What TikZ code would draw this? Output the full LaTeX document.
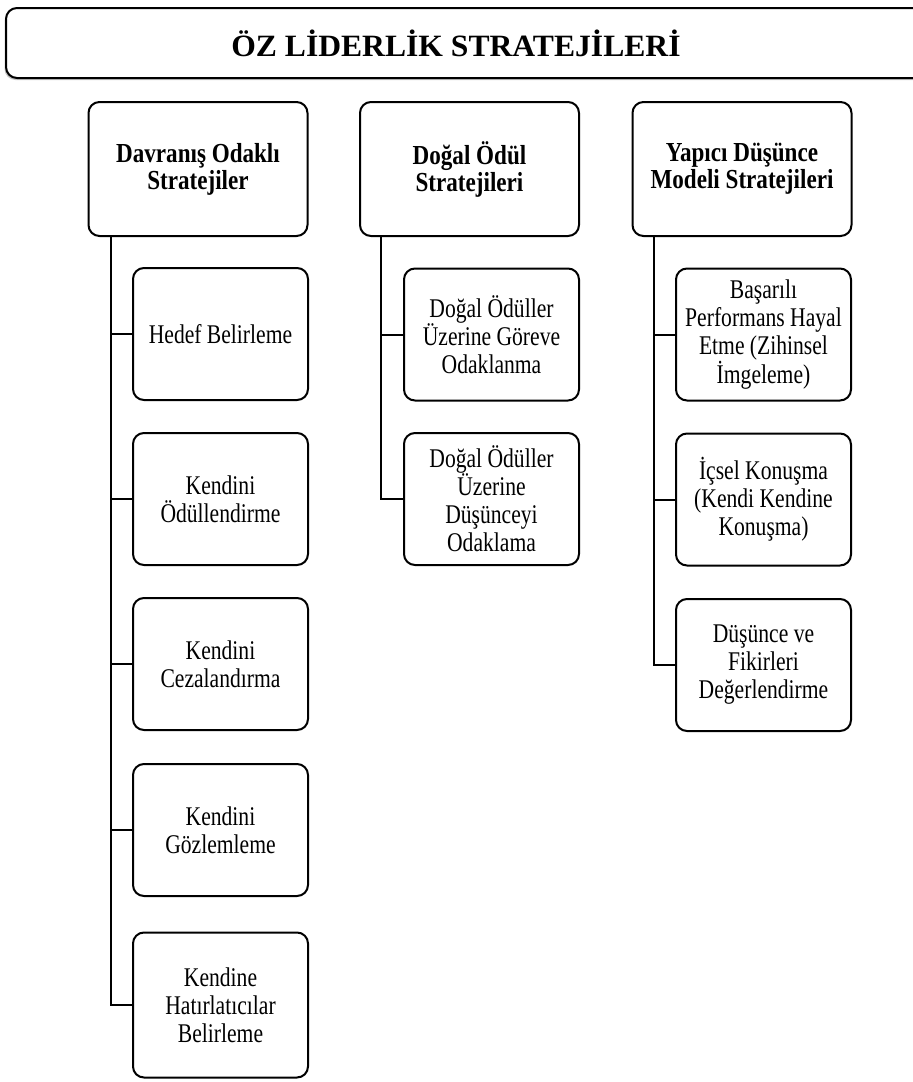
\documentclass[tikz,border=0pt]{standalone}
\usepackage{fontspec}
\setmainfont{Liberation Serif}
\newfontfamily\leaffont[FakeStretch=0.8]{Liberation Serif}
\newfontfamily\headfont[FakeStretch=0.84]{Liberation Serif}
\newfontfamily\titlefont[FakeStretch=1.02]{Liberation Serif}
\usetikzlibrary{shadows}

\begin{document}
\begin{tikzpicture}[x=1pt, y=-1pt,
        box/.style={draw, line width=2pt, rounded corners=11pt, fill=white, align=center, inner sep=2pt},
        headbox/.style={box, minimum width=219pt, minimum height=134pt, font=\headfont\bfseries\fontsize{27.5}{27}\selectfont},
        leafbox/.style={box, minimum width=175pt, minimum height=132pt, font=\leaffont\fontsize{27}{28}\selectfont},
        branch/.style={line width=2pt}]
        \useasboundingbox (0,0) rectangle (913,1082);
        \clip (0,0) rectangle (913,1082);

        \node[box, drop shadow={shadow xshift=-1.5pt, shadow yshift=-2pt, fill=black!45}, minimum width=930pt, minimum height=70pt, anchor=west] (title) at (5,43) {};
        \node[font=\titlefont\bfseries\fontsize{31}{31}\selectfont] (titletext) at (456,43) {ÖZ LİDERLİK STRATEJİLERİ};

        \node[headbox] (davranis) at (198,169) {Davranış Odaklı\\Stratejiler};
        \node[headbox] (odul) at (469.5,169) {Doğal Ödül\\Stratejileri};
        \node[headbox] (yapici) at (742,169) {Yapıcı Düşünce\\Modeli Stratejileri};

        \node[leafbox] (hedef) at (220.5,334) {Hedef Belirleme};
        \node[leafbox] (odullendirme) at (220.5,499) {Kendini\\Ödüllendirme};
        \node[leafbox] (cezalandirma) at (220.5,664) {Kendini\\Cezalandırma};
        \node[leafbox] (gozlemleme) at (220.5,830) {Kendini\\Gözlemleme};
        \node[leafbox, minimum height=145pt] (hatirlatici) at (220.5,1005) {Kendine\\Hatırlatıcılar\\Belirleme};

        \node[leafbox] (gorev) at (491.5,334.5) {Doğal Ödüller\\Üzerine Göreve\\Odaklanma};
        \node[leafbox] (dusunce) at (491.5,499) {Doğal Ödüller\\Üzerine\\Düşünceyi\\Odaklama};

        \node[leafbox] (imgeleme) at (763.5,334.5) {Başarılı\\Performans Hayal\\Etme (Zihinsel\\İmgeleme)};
        \node[leafbox] (konusma) at (763.5,499.5) {İçsel Konuşma\\(Kendi Kendine\\Konuşma)};
        \node[leafbox] (degerlendirme) at (763.5,665) {Düşünce ve\\Fikirleri\\Değerlendirme};

        \foreach \leaf in {hedef, odullendirme, cezalandirma, gozlemleme, hatirlatici}
            \draw[branch] ([xshift=23pt]davranis.south west) |- (\leaf.west);
        \foreach \leaf in {gorev, dusunce}
            \draw[branch] ([xshift=22pt]odul.south west) |- (\leaf.west);
        \foreach \leaf in {imgeleme, konusma, degerlendirme}
            \draw[branch] ([xshift=22pt]yapici.south west) |- (\leaf.west);
    \end{tikzpicture}
\end{document}
